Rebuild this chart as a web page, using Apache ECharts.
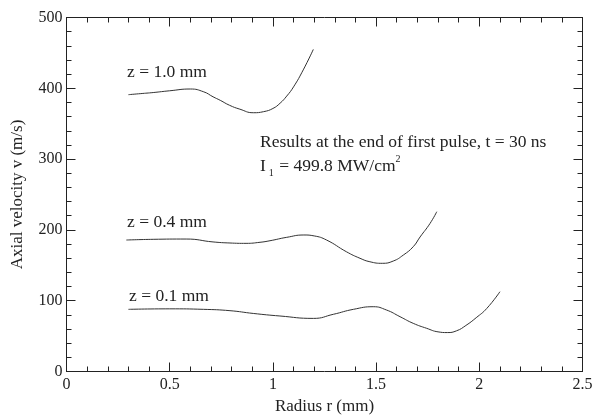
<!DOCTYPE html>
<html>
<head>
<meta charset="utf-8">
<script src="https://cdn.jsdelivr.net/npm/echarts@6/dist/echarts.min.js"></script>
<style>
    html, body { margin: 0; padding: 0; background: #fff; }
    #chart { width: 592px; height: 415px; }
</style>
</head>
<body>
<div id="chart"></div>
<script>
// radius r (mm), axial velocity v (m/s)
var z10 = [[0.30, 391], [0.36, 392.5], [0.42, 394], [0.50, 396.5], [0.60, 399], [0.665, 395],
    [0.71, 388], [0.745, 383], [0.79, 376], [0.84, 370.5], [0.905, 365.5],
    [0.955, 367], [1.00, 371.5], [1.035, 379], [1.067, 389], [1.10, 402], [1.147, 426], [1.196, 455]];
var z04 = [[0.29, 185.7], [0.42, 186.7], [0.58, 187.1], [0.71, 183], [0.792, 181.5],
    [0.87, 181], [0.9375, 182.5], [0.986, 184.7], [1.067, 189.5], [1.15, 192.8], [1.20, 191.5],
    [1.26, 185.7], [1.357, 169], [1.422, 159.9], [1.47, 155], [1.53, 152.8], [1.583, 156],
    [1.632, 164.5], [1.68, 176.3], [1.713, 190], [1.761, 209], [1.794, 225.7]];
var z01 = [[0.30, 87.8], [0.50, 88.5], [0.663, 87.8], [0.792, 85.9], [0.905, 82], [1.034, 78.4],
    [1.196, 75], [1.293, 80.8], [1.39, 87.8], [1.486, 91.5], [1.55, 86.9], [1.616, 77.4],
    [1.68, 68], [1.745, 61], [1.80, 56], [1.845, 55], [1.89, 57.5], [1.935, 65],
    [1.985, 76], [2.036, 89], [2.10, 112.7]];
var seriesNames = ['z = 1.0 mm', 'z = 0.4 mm', 'z = 0.1 mm'];

var serif = '"Liberation Serif", "DejaVu Serif", serif';
var ink = '#222';

var myChart = echarts.init(document.getElementById('chart'));

var lineSeries = function (name, data) {
    return {
        name: name,
        type: 'line',
        data: data,
        smooth: 0.5,
        showSymbol: false,
        lineStyle: { color: '#333', width: 1 },
        animation: false
    };
};

var frameAxis = function (extra) {
    var ax = {
        axisLine: { show: true, onZero: false, lineStyle: { color: ink, width: 1 } },
        axisTick: { show: true, inside: true, length: 9, lineStyle: { color: ink } },
        minorTick: { show: true, splitNumber: 5, length: 5, lineStyle: { color: ink } },
        splitLine: { show: false },
        axisLabel: { show: false }
    };
    for (var k in extra) ax[k] = extra[k];
    return ax;
};

var label = function (x, y, text) {
    return {
        type: 'text', x: x, y: y,
        style: { text: text, font: '17.5px ' + serif, fill: ink, verticalAlign: 'middle' }
    };
};

var option = {
    backgroundColor: '#fff',
    animation: false,
    grid: { left: 66.5, right: 9.5, top: 17.5, bottom: 43.5, outerBoundsMode: 'none' },
    xAxis: [
        frameAxis({
            type: 'value', min: 0, max: 2.5, interval: 0.5, position: 'bottom',
            name: 'Radius r (mm)', nameLocation: 'middle', nameGap: 27,
            nameTextStyle: { fontFamily: serif, fontSize: 17, color: ink },
            axisLabel: { show: true, margin: 5, fontFamily: serif, fontSize: 16, color: ink }
        }),
        frameAxis({ type: 'value', min: 0, max: 2.5, interval: 0.5, position: 'top' })
    ],
    yAxis: [
        frameAxis({
            type: 'value', min: 0, max: 500, interval: 100, position: 'left',
            name: 'Axial velocity v (m/s)', nameLocation: 'middle', nameGap: 40,
            nameTextStyle: { fontFamily: serif, fontSize: 17, color: ink },
            axisLabel: { show: true, margin: 4, fontFamily: serif, fontSize: 16, color: ink }
        }),
        frameAxis({ type: 'value', min: 0, max: 500, interval: 100, position: 'right' })
    ],
    series: [
        lineSeries(seriesNames[0], z10),
        lineSeries(seriesNames[1], z04),
        lineSeries(seriesNames[2], z01)
    ],
    graphic: [
        label(127, 72.5, seriesNames[0]),
        label(127, 222, seriesNames[1]),
        label(129, 296, seriesNames[2]),
        label(260, 142, 'Results at the end of first pulse, t = 30 ns'),
        {
            type: 'text', x: 260, y: 166,
            style: {
                text: '{m|I}{s|1}{m| = 499.8 MW/cm}{p|2}',
                fill: ink,
                verticalAlign: 'middle',
                rich: {
                    m: { fontFamily: serif, fontSize: 17.5, lineHeight: 24, verticalAlign: 'middle' },
                    s: { fontFamily: serif, fontSize: 10, lineHeight: 12, verticalAlign: 'bottom', padding: [0, 1, 0, 3] },
                    p: { fontFamily: serif, fontSize: 10, lineHeight: 12, verticalAlign: 'top' }
                }
            }
        }
    ]
};
option && myChart.setOption(option);
</script>
</body>
</html>
